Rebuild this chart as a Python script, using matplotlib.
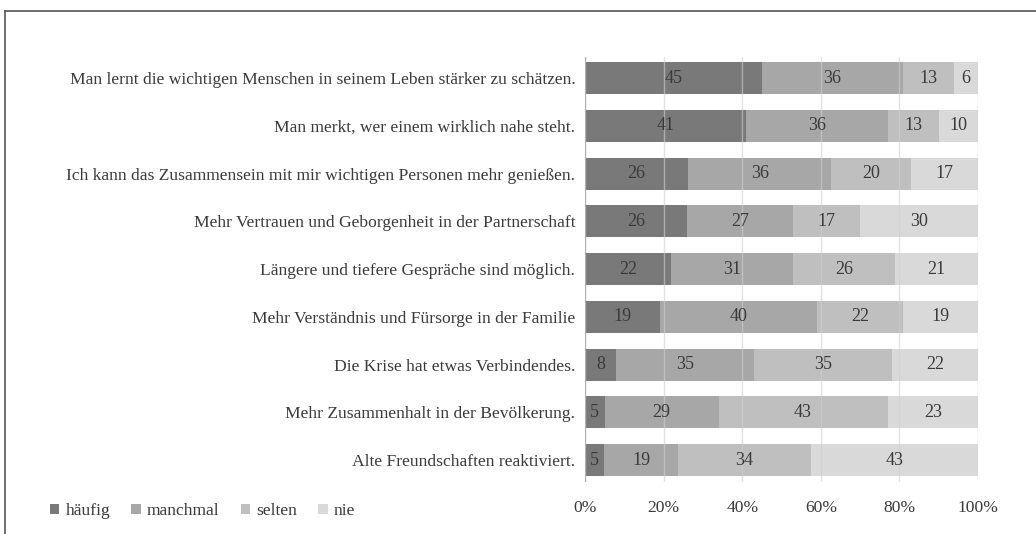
import matplotlib
matplotlib.use("Agg")
import matplotlib.pyplot as plt
import numpy as np
from matplotlib.lines import Line2D
from matplotlib.patches import Patch

categories = [
    "Man lernt die wichtigen Menschen in seinem Leben stärker zu schätzen.",
    "Man merkt, wer einem wirklich nahe steht.",
    "Ich kann das Zusammensein mit mir wichtigen Personen mehr genießen.",
    "Mehr Vertrauen und Geborgenheit in der Partnerschaft",
    "Längere und tiefere Gespräche sind möglich.",
    "Mehr Verständnis und Fürsorge in der Familie",
    "Die Krise hat etwas Verbindendes.",
    "Mehr Zusammenhalt in der Bevölkerung.",
    "Alte Freundschaften reaktiviert.",
]
haeufig = [45, 41, 26, 26, 22, 19, 8, 5, 5]
manchmal = [36, 36, 36, 27, 31, 40, 35, 29, 19]
selten = [13, 13, 20, 17, 26, 22, 35, 43, 34]
nie = [6, 10, 17, 30, 21, 19, 22, 23, 43]
series_names = ["häufig", "manchmal", "selten", "nie"]
tick_labels = ["0%", "20%", "40%", "60%", "80%", "100%"]

colors = ["#797979", "#a7a7a7", "#bfbfbf", "#d9d9d9"]
text_color = "#3a3a3a"
fs = 12.6

plt.rcParams["font.family"] = ["Liberation Serif", "DejaVu Serif"]

W, H = 1036, 534
fig = plt.figure(figsize=(W / 100, H / 100), dpi=100)
ax = fig.add_axes([585 / W, 1 - 482 / H, (978 - 585) / W, (482 - 57) / H])

data = np.array([haeufig, manchmal, selten, nie], dtype=float)
totals = data.sum(axis=0)
shares = data / totals * 100
y = np.arange(len(categories))
left = np.zeros(len(categories))
for i, name in enumerate(series_names):
    bars = ax.barh(y, shares[i], left=left, height=0.67, color=colors[i],
                   label=name, zorder=2)
    for j, b in enumerate(bars):
        cx = left[j] + shares[i][j] / 2
        ax.text(cx, y[j], str(int(data[i][j])), ha="center", va="center",
                fontsize=13, color=text_color, zorder=4)
    left += shares[i]

ax.set_xlim(0, 100)
ax.set_ylim(8.46, -0.44)
ax.set_xticks([0, 20, 40, 60, 80, 100])
ax.set_xticklabels(tick_labels, fontsize=fs, color=text_color)
ax.set_yticks(y)
ax.set_yticklabels(categories, fontsize=fs, color=text_color)
ax.tick_params(axis="x", length=0, pad=13)
ax.tick_params(axis="y", length=0, pad=7)
for s in ax.spines.values():
    s.set_visible(False)
for xv in [0, 20, 40, 60, 80, 100]:
    ax.axvline(xv, color="#b0b0b0" if xv == 0 else "#d0d0d0",
               alpha=0.6 if xv else 1.0, lw=1, zorder=3)

handles = [Patch(facecolor=c, edgecolor="none") for c in colors]
fig.legend(handles, series_names, loc="center left",
           bbox_to_anchor=(34 / W, 1 - 511 / H), ncol=4, frameon=False,
           fontsize=fs, handlelength=0.55, handleheight=0.55, handletextpad=0.35,
           columnspacing=1.2, labelcolor=text_color)

# frame lines (top and left)
fig.add_artist(Line2D([4.5 / W, 1.0], [1 - 11 / H, 1 - 11 / H],
                      transform=fig.transFigure, color="#555555", lw=1.2))
fig.add_artist(Line2D([4.5 / W, 4.5 / W], [0, 1 - 11 / H],
                      transform=fig.transFigure, color="#555555", lw=1.2))

fig.savefig("out.png", dpi=100, facecolor="white")
